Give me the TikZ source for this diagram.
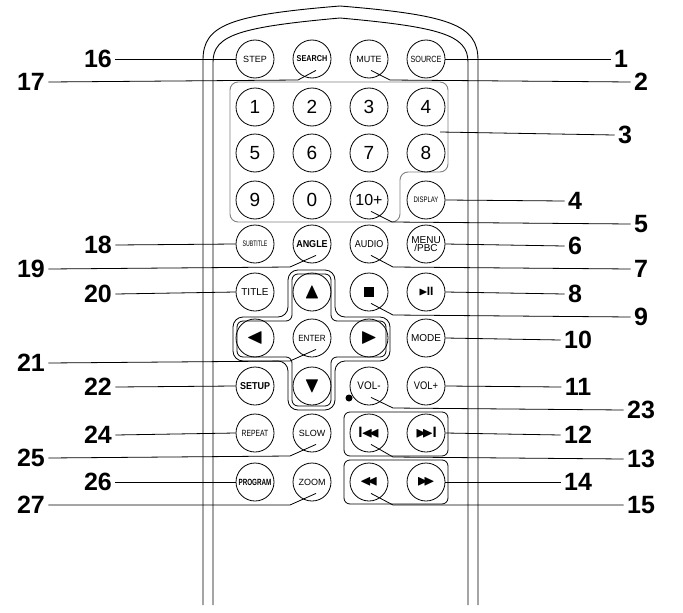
\documentclass[tikz,border=0pt]{standalone}
\usepackage{amssymb}
\usepackage{fontspec}
\setmainfont{Liberation Sans}
\usetikzlibrary{calc,positioning}
\tikzset{
  btn/.style={shape=circle,draw,line width=0.8,minimum size=38,inner sep=0,font=\fontsize{9}{9}\selectfont},
  dig/.style={btn,font=\fontsize{19}{19}\selectfont},
  sym/.style={btn,font=\fontsize{22}{22}\selectfont},
  num/.style={font=\bfseries\fontsize{25}{25}\selectfont},
  lead/.style={line width=0.8}
}
\newcommand{\narrow}[2]{\scalebox{#1}[1]{#2}}
\begin{document}
\begin{tikzpicture}[x=1pt,y=-1pt]
	\useasboundingbox (0,0) rectangle (683,613);
	% body of the remote
	\draw [line width=0.9] (203,605) -- (203,60) .. controls (203,25) and (230,15) .. (340,6) .. controls (450,15) and (478,25) .. (478,60) -- (478,605);
	\draw [line width=0.9] (213,605) -- (213,62) .. controls (213,35) and (240,27) .. (340,18) .. controls (440,27) and (468,35) .. (468,62) -- (468,605);
	% key groups
	\draw [gray,line width=0.9,rounded corners=8] (230,82) -- (448,82) -- (448,172) -- (400,172) -- (400,222) -- (230,222) -- cycle;
	\draw [line width=0.8,rounded corners=10] (288,270) -- (335,270) -- (335,317) -- (390,317) -- (390,361) -- (335,361) -- (335,410) -- (288,410) -- (288,361) -- (233,361) -- (233,317) -- (288,317) -- cycle;
	\draw [line width=0.8,rounded corners=6] (292,274) -- (331,274) -- (331,321) -- (386,321) -- (386,357) -- (331,357) -- (331,406) -- (292,406) -- (292,357) -- (237,357) -- (237,321) -- (292,321) -- cycle;
	\draw [line width=0.8,rounded corners=6] (344,412) rectangle (448,456);
	\draw [line width=0.8,rounded corners=6] (344,460) rectangle (448,504);
	% buttons
	\node (step) [btn] at (255,59) {STEP};
	\node (search) [btn,font=\bfseries\fontsize{8.5}{8.5}\selectfont] at (312,59) {\narrow{0.85}{SEARCH}};
	\node (mute) [btn] at (369,59) {MUTE};
	\node (source) [btn] at (426,59) {\narrow{0.8}{SOURCE}};
	\node (k1) [dig] at (255,107) {1};
	\node (k2) [dig] at (312,107) {2};
	\node (k3) [dig] at (369,107) {3};
	\node (k4) [dig] at (426,107) {4};
	\node (k5) [dig] at (255,153) {5};
	\node (k6) [dig] at (312,153) {6};
	\node (k7) [dig] at (369,153) {7};
	\node (k8) [dig] at (426,153) {8};
	\node (k9) [dig] at (255,200) {9};
	\node (k0) [dig] at (312,200) {0};
	\node (k10) [dig,font=\fontsize{16}{16}\selectfont] at (369,200) {10+};
	\node (display) [btn,font=\fontsize{8}{8}\selectfont] at (426,200) {\narrow{0.75}{DISPLAY}};
	\node (subtitle) [btn,font=\fontsize{8}{8}\selectfont] at (255,244) {\narrow{0.65}{SUBTITLE}};
	\node (angle) [btn,font=\bfseries\fontsize{10}{10}\selectfont] at (312,244) {\narrow{0.9}{ANGLE}};
	\node (audio) [btn,font=\fontsize{10}{10}\selectfont] at (369,244) {\narrow{0.9}{AUDIO}};
	\node (menu) [btn,align=center,font=\fontsize{10}{8.5}\selectfont] at (426,244) {MENU\\/PBC};
	\node (title) [btn,font=\fontsize{10}{10}\selectfont] at (255,292) {TITLE};
	\node (up) [sym] at (312,292) {$\blacktriangle$};
	\node (stop) [btn] at (369,292) {\rule{10pt}{10pt}};
	\node (play) [btn,font=\fontsize{12}{12}\selectfont] at (426,292) {$\blacktriangleright$\hspace{-1pt}\textbf{II}};
	\node (left) [sym] at (255,338) {$\blacktriangleleft$};
	\node (enter) [btn] at (312,338) {\narrow{0.9}{ENTER}};
	\node (right) [sym] at (369,338) {$\blacktriangleright$};
	\node (mode) [btn,font=\fontsize{10}{10}\selectfont] at (426,338) {MODE};
	\node (setup) [btn,font=\bfseries\fontsize{10}{10}\selectfont] at (255,386) {\narrow{0.9}{SETUP}};
	\node (down) [sym] at (312,386) {$\blacktriangledown$};
	\node (volm) [btn,font=\fontsize{11}{11}\selectfont] at (369,386) {\narrow{0.9}{VOL-}};
	\node (volp) [btn,font=\fontsize{11}{11}\selectfont] at (426,386) {\narrow{0.85}{VOL+}};
	\node (repeat) [btn,font=\fontsize{9}{9}\selectfont] at (255,433) {\narrow{0.75}{REPEAT}};
	\node (slow) [btn] at (312,433) {SLOW};
	\node (prev) [btn,font=\fontsize{15}{15}\selectfont] at (369,433) {\textbf{I}\hspace{-1pt}$\blacktriangleleft\hspace{-5pt}\blacktriangleleft$};
	\node (next) [btn,font=\fontsize{15}{15}\selectfont] at (426,433) {$\blacktriangleright\hspace{-5pt}\blacktriangleright$\hspace{-1pt}\textbf{I}};
	\node (program) [btn,font=\bfseries\fontsize{9}{9}\selectfont] at (255,482) {\narrow{0.7}{PROGRAM}};
	\node (zoom) [btn] at (312,482) {ZOOM};
	\node (rew) [btn,font=\fontsize{15}{15}\selectfont] at (369,482) {$\blacktriangleleft\hspace{-5pt}\blacktriangleleft$};
	\node (ff) [btn,font=\fontsize{15}{15}\selectfont] at (426,482) {$\blacktriangleright\hspace{-5pt}\blacktriangleright$};
	\fill (349,398) circle (3.5);
	% labels
	\node (n1) [num] at (621,59) {1};
	\node (n2) [num] at (641,82) {2};
	\node (n3) [num] at (625,135) {3};
	\node (n4) [num] at (575,201) {4};
	\node (n5) [num] at (641,224) {5};
	\node (n6) [num] at (575,246) {6};
	\node (n7) [num] at (641,269) {7};
	\node (n8) [num] at (575,294) {8};
	\node (n9) [num] at (641,317) {9};
	\node (n10) [num] at (578,340) {10};
	\node (n11) [num] at (578,387) {11};
	\node (n23) [num] at (641,410) {23};
	\node (n12) [num] at (578,435) {12};
	\node (n13) [num] at (641,459) {13};
	\node (n14) [num] at (578,482) {14};
	\node (n15) [num] at (641,505) {15};
	\node (n16) [num] at (98,59) {16};
	\node (n17) [num] at (31,82) {17};
	\node (n18) [num] at (98,245) {18};
	\node (n19) [num] at (31,269) {19};
	\node (n20) [num] at (98,294) {20};
	\node (n21) [num] at (31,363) {21};
	\node (n22) [num] at (98,387) {22};
	\node (n24) [num] at (98,435) {24};
	\node (n25) [num] at (31,458) {25};
	\node (n26) [num] at (98,482) {26};
	\node (n27) [num] at (31,505) {27};
	% leader lines
	\draw [lead] (source.east) -- (n1.west);
	\draw [lead] (mute.south) ++(2,-8) -- (390,80) -- (n2.west);
	\draw [lead] (440,132) -- (n3.west);
	\draw [lead] (display.east) -- (n4.west);
	\draw [lead] (k10.south) ++(2,-8) -- (392,222) -- (n5.west);
	\draw [lead] (menu.east) -- (n6.west);
	\draw [lead] (audio.south) ++(2,-8) -- (393,267) -- (n7.west);
	\draw [lead] (play.east) -- (n8.west);
	\draw [lead] (stop.south) ++(2,-8) -- (393,315) -- (n9.west);
	\draw [lead] (mode.east) -- (n10.west);
	\draw [lead] (volp.east) -- (n11.west);
	\draw [lead] (volm.south) ++(2,-8) -- (393,408) -- (n23.west);
	\draw [lead] (next.east) -- (n12.west);
	\draw [lead] (prev.south) ++(2,-8) -- (393,457) -- (n13.west);
	\draw [lead] (ff.east) -- (n14.west);
	\draw [lead] (rew.south) ++(2,-8) -- (393,505) -- (n15.west);
	\draw [lead] (n16.east) -- (step.west);
	\draw [lead] (n17.east) -- (298,80) -- ($(search.south)+(4,-8)$);
	\draw [lead] (n18.east) -- (subtitle.west);
	\draw [lead] (n19.east) -- (290,267) -- ($(angle.south)+(4,-8)$);
	\draw [lead] (n20.east) -- (title.west);
	\draw [lead] (n21.east) -- (290,361) -- ($(enter.south)+(4,-8)$);
	\draw [lead] (n22.east) -- (setup.west);
	\draw [lead] (n24.east) -- (repeat.west);
	\draw [lead] (n25.east) -- (290,456) -- ($(slow.south)+(4,-8)$);
	\draw [lead] (n26.east) -- (program.west);
	\draw [lead] (n27.east) -- (290,505) -- ($(zoom.south)+(4,-8)$);
\end{tikzpicture}
\end{document}
